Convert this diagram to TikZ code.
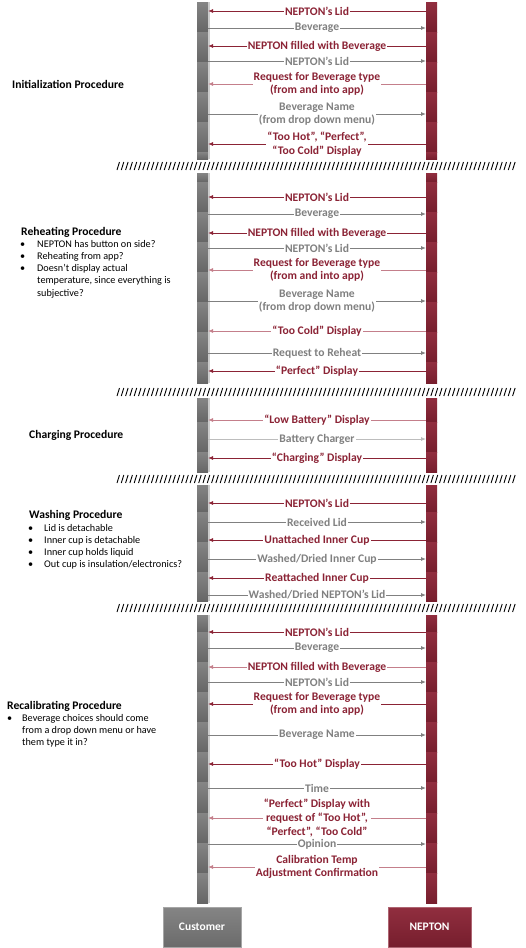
\documentclass[tikz,border=0pt]{standalone}
\usepackage{fontspec}
\setmainfont{Carlito}
\usetikzlibrary{arrows.meta}
\definecolor{nepred}{HTML}{8B2335}
\definecolor{nepredlt}{HTML}{C47F8B}
\definecolor{msggray}{HTML}{808080}
\definecolor{msggraylt}{HTML}{BDBDBD}
\newcommand\msgfont{\fontsize{11.6}{13.7}\selectfont\bfseries}
\newcommand\notefont{\fontsize{10.2}{12.2}\selectfont}

\begin{document}
\begin{tikzpicture}[x=1pt,y=-1pt,
    tocus/.style={draw=nepred,line width=0.9pt,-{Latex[length=5pt,width=4pt]}},
    tocuslt/.style={tocus,draw=nepredlt},
    tonep/.style={draw=msggray,line width=0.9pt,-{Latex[length=5pt,width=4pt]}},
    toneplt/.style={tonep,draw=msggraylt},
    redlbl/.style={fill=white,text=nepred,font=\msgfont,align=center,inner sep=1pt},
    graylbl/.style={redlbl,text=msggray},
    proctitle/.style={anchor=west,inner sep=0pt,font=\fontsize{11.6}{13}\selectfont\bfseries},
    procnotes/.style={anchor=north west,inner sep=0pt,font=\notefont},
    actor/.style={minimum height=40pt,text=white,font=\fontsize{11.5}{13}\selectfont\bfseries}]
    \useasboundingbox (0,0) rectangle (525,948);
    \coordinate (cusline) at (208,0);
    \coordinate (nepline) at (426,0);
    % lifeline bars, one piece per step
    \foreach \a/\b in {2/32,32/62,62/92,92/122,122/152,152/159,
        173/182,182/212,212/242,242/272,272/302,302/332,332/362,362/383,
        398/422,422/452,452/472,485/512,512/542,542/572,572/601,
        615/632,632/662,662/692,692/722,722/752,752/782,782/813,813/843,843/873,873/903} {
        \shade[top color=black!48,bottom color=black!60] (197,\a) rectangle (208,\b);
        \fill[black!20] (208,\a) rectangle (209.5,\b);
        \shade[top color=nepred!95!white,bottom color=nepred!85!black] (426,\a) rectangle (437,\b);
    }
    % breaks between procedures
    \foreach \y in {166,392,479,608}
        \foreach \i in {0,...,92}
            \draw[line width=0.9pt] ({117+\i*4.3},\y+4) -- ({119.5+\i*4.3},\y-4);

    % Initialization
    \node[proctitle] (init) at (12,84) {Initialization Procedure};
    \draw[tocus] (nepline |- 0,11) -- (cusline |- 0,11) node[redlbl,midway] (m1) {NEPTON’s Lid};
    \draw[tonep] (cusline |- 0,28) -- (nepline |- 0,28) node[graylbl,midway] (m2) {Beverage};
    \draw[tocus] (nepline |- 0,46) -- (cusline |- 0,46) node[redlbl,midway] (m3) {NEPTON filled with Beverage};
    \draw[tonep] (cusline |- 0,61) -- (nepline |- 0,61) node[graylbl,midway] (m4) {NEPTON’s Lid};
    \draw[tocuslt] (nepline |- 0,84) -- (cusline |- 0,84) node[redlbl,midway] (m5) {Request for Beverage type\\(from and into app)};
    \draw[tonep] (cusline |- 0,114) -- (nepline |- 0,114) node[graylbl,midway] (m6) {Beverage Name\\(from drop down menu)};
    \draw[tocus] (nepline |- 0,144) -- (cusline |- 0,144) node[redlbl,midway] (m7) {“Too Hot”, “Perfect”,\\“Too Cold” Display};

    % Reheating
    \node[proctitle] (reheat) at (21,232) {Reheating Procedure};
    \node[procnotes] (reheatnotes) at (20,238.5) {\begin{tabular}{@{}p{17pt}@{}l@{}}
        \textbullet & NEPTON has button on side?\\
        \textbullet & Reheating from app?\\
        \textbullet & Doesn’t display actual\\
        & temperature, since everything is\\
        & subjective?
    \end{tabular}};
    \draw[tocus] (nepline |- 0,197) -- (cusline |- 0,197) node[redlbl,midway] (m8) {NEPTON’s Lid};
    \draw[tonep] (cusline |- 0,214) -- (nepline |- 0,214) node[graylbl,midway] (m9) {Beverage};
    \draw[tocus] (nepline |- 0,233) -- (cusline |- 0,233) node[redlbl,midway] (m10) {NEPTON filled with Beverage};
    \draw[tonep] (cusline |- 0,248) -- (nepline |- 0,248) node[graylbl,midway] (m11) {NEPTON’s Lid};
    \draw[tocuslt] (nepline |- 0,270) -- (cusline |- 0,270) node[redlbl,midway] (m12) {Request for Beverage type\\(from and into app)};
    \draw[tonep] (cusline |- 0,301) -- (nepline |- 0,301) node[graylbl,midway] (m13) {Beverage Name\\(from drop down menu)};
    \draw[tocuslt] (nepline |- 0,331) -- (cusline |- 0,331) node[redlbl,midway] (m14) {“Too Cold” Display};
    \draw[tonep] (cusline |- 0,353) -- (nepline |- 0,353) node[graylbl,midway] (m15) {Request to Reheat};
    \draw[tocus] (nepline |- 0,371) -- (cusline |- 0,371) node[redlbl,midway] (m16) {“Perfect” Display};

    % Charging
    \node[proctitle] (charge) at (29,435) {Charging Procedure};
    \draw[tocuslt] (nepline |- 0,420) -- (cusline |- 0,420) node[redlbl,midway] (m17) {“Low Battery” Display};
    \draw[toneplt] (cusline |- 0,439) -- (nepline |- 0,439) node[graylbl,midway] (m18) {Battery Charger};
    \draw[tocus] (nepline |- 0,458) -- (cusline |- 0,458) node[redlbl,midway] (m19) {“Charging” Display};

    % Washing
    \node[proctitle] (wash) at (29,515) {Washing Procedure};
    \node[procnotes] (washnotes) at (28,522.5) {\begin{tabular}{@{}p{16pt}@{}l@{}}
        \textbullet & Lid is detachable\\
        \textbullet & Inner cup is detachable\\
        \textbullet & Inner cup holds liquid\\
        \textbullet & Out cup is insulation/electronics?
    \end{tabular}};
    \draw[tocus] (nepline |- 0,503) -- (cusline |- 0,503) node[redlbl,midway] (m20) {NEPTON’s Lid};
    \draw[tonep] (cusline |- 0,522) -- (nepline |- 0,522) node[graylbl,midway] (m21) {Received Lid};
    \draw[tocus] (nepline |- 0,540) -- (cusline |- 0,540) node[redlbl,midway] (m22) {Unattached Inner Cup};
    \draw[tonep] (cusline |- 0,559) -- (nepline |- 0,559) node[graylbl,midway] (m23) {Washed/Dried Inner Cup};
    \draw[tocus] (nepline |- 0,578) -- (cusline |- 0,578) node[redlbl,midway] (m24) {Reattached Inner Cup};
    \draw[tonep] (cusline |- 0,595) -- (nepline |- 0,595) node[graylbl,midway] (m25) {Washed/Dried NEPTON’s Lid};

    % Recalibrating
    \node[proctitle] (recal) at (7,706) {Recalibrating Procedure};
    \node[procnotes] (recalnotes) at (7,712.5) {\begin{tabular}{@{}p{15pt}@{}l@{}}
        \textbullet & Beverage choices should come\\
        & from a drop down menu or have\\
        & them type it in?
    \end{tabular}};
    \draw[tocus] (nepline |- 0,632) -- (cusline |- 0,632) node[redlbl,midway] (m26) {NEPTON’s Lid};
    \draw[tonep] (cusline |- 0,648) -- (nepline |- 0,648) node[graylbl,midway] (m27) {Beverage};
    \draw[tocuslt] (nepline |- 0,667) -- (cusline |- 0,667) node[redlbl,midway] (m28) {NEPTON filled with Beverage};
    \draw[tonep] (cusline |- 0,682) -- (nepline |- 0,682) node[graylbl,midway] (m29) {NEPTON’s Lid};
    \draw[tocus] (nepline |- 0,704) -- (cusline |- 0,704) node[redlbl,midway] (m30) {Request for Beverage type\\(from and into app)};
    \draw[tonep] (cusline |- 0,735) -- (nepline |- 0,735) node[graylbl,midway] (m31) {Beverage Name};
    \draw[tocus] (nepline |- 0,764) -- (cusline |- 0,764) node[redlbl,midway] (m32) {“Too Hot” Display};
    \draw[tonep] (cusline |- 0,788) -- (nepline |- 0,788) node[graylbl,midway] (m33) {Time};
    \draw[tocuslt] (nepline |- 0,818) -- (cusline |- 0,818) node[redlbl,midway] (m34) {“Perfect” Display with\\request of “Too Hot”,\\“Perfect”, “Too Cold”};
    \draw[tonep] (cusline |- 0,844) -- (nepline |- 0,844) node[graylbl,midway] (m35) {Opinion};
    \draw[tocuslt] (nepline |- 0,867) -- (cusline |- 0,867) node[redlbl,midway] (m36) {Calibration Temp\\Adjustment Confirmation};

    % actors
    \node[actor,minimum width=78pt,top color=black!48,bottom color=black!58,draw=black!35] (customer) at (202,927) {Customer};
    \node[actor,minimum width=83pt,top color=nepred!95!white,bottom color=nepred!85!black,draw=nepred!70!white] (nepton) at (429.5,927) {NEPTON};
\end{tikzpicture}
\end{document}
